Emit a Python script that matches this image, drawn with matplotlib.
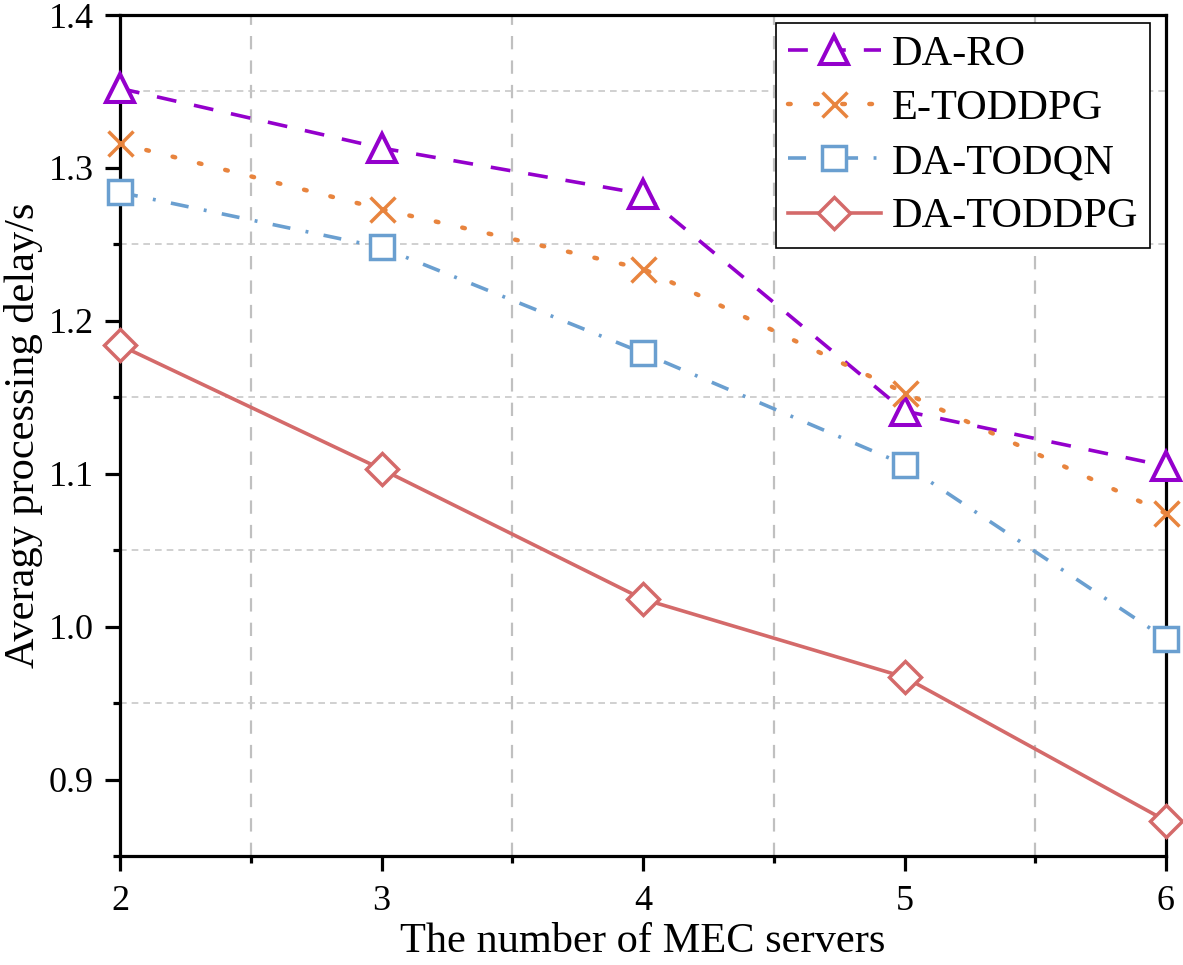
import matplotlib
matplotlib.use("Agg")
import matplotlib.pyplot as plt
from matplotlib.ticker import MultipleLocator

plt.rcParams['font.family'] = ['Liberation Serif', 'DejaVu Serif']
plt.rcParams['mathtext.fontset'] = 'stix'

servers = [2, 3, 4, 5, 6]
da_ro = [1.352, 1.313, 1.283, 1.141, 1.105]
e_toddpg = [1.316, 1.273, 1.234, 1.153, 1.074]
da_todqn = [1.284, 1.248, 1.179, 1.106, 0.992]
da_toddpg = [1.184, 1.103, 1.018, 0.967, 0.873]

fig = plt.figure(figsize=(11.83, 9.65), dpi=100)
ax = fig.add_axes([120/1183, 1 - 856/965, (1166-120)/1183, (856-15)/965])

lw = 2.6
mew = 2.5
ax.plot(servers, da_ro, color='#9400CC', linestyle=(0, (5.5, 5)), lw=lw,
        marker='^', ms=20, mfc='white', mec='#9400CC', mew=mew + 0.4, label='DA-RO', clip_on=False, zorder=5)
ax.plot(servers, e_toddpg, color='#E8843E', linestyle=(0, (0.6, 5.5)), lw=lw + 0.6,
        dash_capstyle='round', marker='x', ms=18, mec='#E8843E', mew=mew, label='E-TODDPG', clip_on=False, zorder=5)
ax.plot(servers, da_todqn, color='#6A9FD0', linestyle=(0, (5, 4.3, 0.8, 4.3)), lw=lw,
        marker='s', ms=17, mfc='white', mec='#6A9FD0', mew=mew, label='DA-TODQN', clip_on=False, zorder=5)
ax.plot(servers, da_toddpg, color='#D46A6A', linestyle='-', lw=lw,
        marker='D', ms=16, mfc='white', mec='#D46A6A', mew=mew, label='DA-TODDPG', clip_on=False, zorder=5)

ax.set_xlim(2, 6)
ax.set_ylim(0.85, 1.4)
ax.xaxis.set_major_locator(MultipleLocator(1))
ax.xaxis.set_minor_locator(MultipleLocator(0.5))
ax.yaxis.set_minor_locator(MultipleLocator(0.05))
ax.set_yticks([0.9, 1.0, 1.1, 1.2, 1.3, 1.4])
ax.set_yticklabels(['0.9', '1.0', '1.1', '1.2', '1.3', '1.4'])

ax.grid(False)
ax.grid(which='minor', axis='x', color='#c0c0c0', linestyle=(0, (6, 5)), lw=1.6)
ax.grid(which='minor', axis='y', color='#c8c8c8', linestyle=(0, (4, 3)), lw=1.2)

for s in ax.spines.values():
    s.set_linewidth(2.3)
ax.tick_params(which='major', direction='out', length=11, width=2.3, labelsize=26, pad=10)
ax.tick_params(which='minor', direction='out', length=5, width=2.3)
ax.tick_params(axis='y', pad=8)

ax.set_xlabel('The number of MEC servers', fontsize=30.5, labelpad=3)
ax.set_ylabel('Averagy processing delay/s', fontsize=30.5, labelpad=4)

leg = ax.legend(loc='upper right', fontsize=30.5, frameon=True, fancybox=False,
                edgecolor='black', framealpha=1, handlelength=2.2, borderpad=0.28,
                labelspacing=0.37, handletextpad=0.25, borderaxespad=0,
                bbox_to_anchor=(0.9847, 0.9905))
leg.get_frame().set_linewidth(1.2)

fig.savefig('out.png', dpi=100)
